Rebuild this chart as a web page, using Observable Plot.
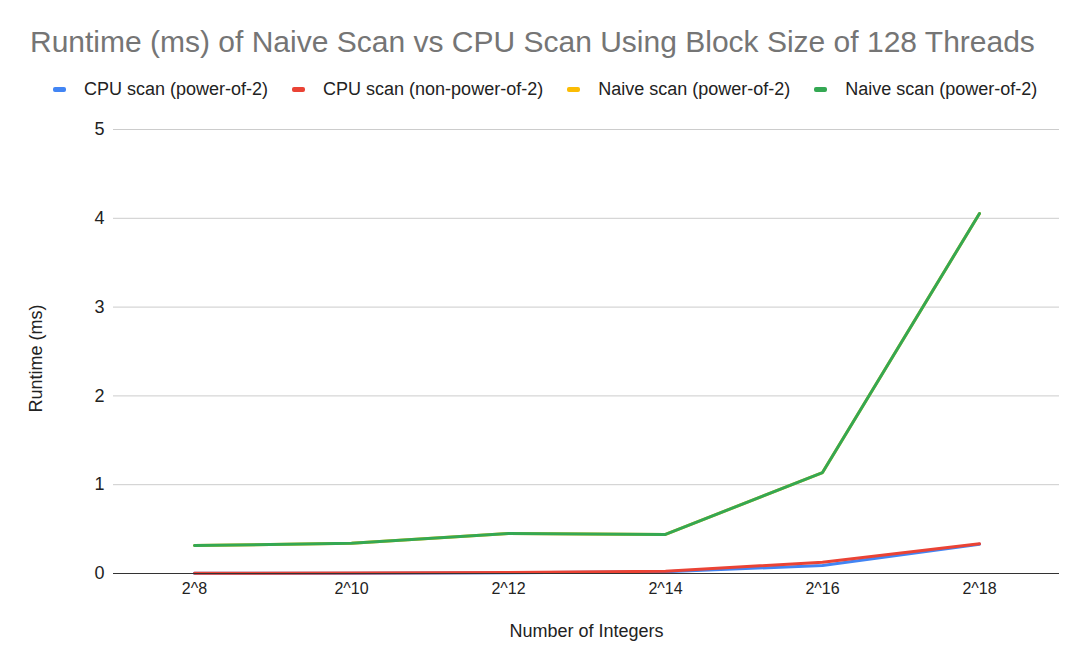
<!DOCTYPE html>
<html>
<head>
<meta charset="utf-8">
<script src="https://cdn.jsdelivr.net/npm/d3@7"></script>
<script src="https://cdn.jsdelivr.net/npm/@observablehq/plot@0.6"></script>
<style>
  body { margin: 0; background: #fff; font-family: "Liberation Sans", Arial, sans-serif; }
  #wrap { position: relative; width: 1083px; height: 664px; }
  #title { position: absolute; left: 30px; top: 24px; font-size: 30px; line-height: 35px; color: #757575; white-space: nowrap; }
  #legend { position: absolute; left: 53px; top: 78px; display: flex; font-size: 18px; line-height: 22px; color: #222; white-space: nowrap; }
  .item { display: flex; align-items: center; margin-right: 24px; }
  .sw { width: 13px; height: 5px; border-radius: 2px; margin-right: 18px; }
  #chart { position: absolute; left: 0; top: 110px; }
</style>
</head>
<body>
<div id="wrap">
  <div id="title">Runtime (ms) of Naive Scan vs CPU Scan Using Block Size of 128 Threads</div>
  <div id="legend"></div>
  <div id="chart"></div>
</div>
<script>
const categories = ["2^8", "2^10", "2^12", "2^14", "2^16", "2^18"];
const seriesNames = ["CPU scan (power-of-2)", "CPU scan (non-power-of-2)", "Naive scan (power-of-2)", "Naive scan (power-of-2) "];
const seriesLabels = ["CPU scan (power-of-2)", "CPU scan (non-power-of-2)", "Naive scan (power-of-2)", "Naive scan (power-of-2)"];
const colors = ["#4285F4", "#EA4335", "#FBBC04", "#34A853"];
const cpuPow2 = [0.002, 0.004, 0.008, 0.02, 0.09, 0.33];
const cpuNonPow2 = [0.003, 0.005, 0.01, 0.025, 0.127, 0.334];
const naivePow2A = [0.315, 0.34, 0.45, 0.44, 1.137, 4.054];
const naivePow2B = [0.315, 0.34, 0.45, 0.44, 1.137, 4.054];
const yTicks = [0, 1, 2, 3, 4, 5];
const yTitle = "Runtime (ms)";
const xTitle = "Number of Integers";

const allSeries = [cpuPow2, cpuNonPow2, naivePow2A, naivePow2B];
const data = [];
allSeries.forEach((vals, si) => {
  vals.forEach((v, i) => data.push({series: seriesNames[si], cat: categories[i], value: v}));
});

const legend = document.getElementById("legend");
seriesLabels.forEach((name, i) => {
  const it = document.createElement("div");
  it.className = "item";
  it.innerHTML = `<span class="sw" style="background:${colors[i]}"></span><span>${name}</span>`;
  legend.appendChild(it);
});

const chart = Plot.plot({
  width: 1083,
  height: 554,
  marginTop: 19,
  marginBottom: 91,
  marginLeft: 113,
  marginRight: 24,
  style: { fontFamily: "'Liberation Sans', Arial, sans-serif", fontSize: "16px", color: "#222" },
  x: { type: "point", domain: categories, padding: 0.5, label: null },
  y: { domain: [0, 5], label: null },
  color: { domain: seriesNames, range: colors },
  marks: [
    Plot.gridY(yTicks.filter(d => d > 0), { stroke: "#cccccc", strokeOpacity: 1, strokeWidth: 1 }),
    Plot.axisY(yTicks, { tickSize: 0, tickPadding: 9, fontSize: 18, tickFormat: d3.format("d"), label: null }),
    Plot.axisX({ tickSize: 0, tickPadding: 9, fontSize: 16, label: null }),
    Plot.lineY(data, { x: "cat", y: "value", stroke: "series", z: "series", strokeWidth: 3, strokeLinejoin: "round", strokeLinecap: "round" }),
    Plot.ruleY([0], { stroke: "#333333", strokeWidth: 1.2 }),
    Plot.text([yTitle], { frameAnchor: "left", textAnchor: "middle", lineAnchor: "middle", rotate: -90, dx: -77, dy: 7, fontSize: 18, fill: "#222" }),
    Plot.text([xTitle], { frameAnchor: "bottom", textAnchor: "middle", lineAnchor: "middle", dy: 58, fontSize: 18, fill: "#222" })
  ]
});
document.getElementById("chart").appendChild(chart);
</script>
</body>
</html>
